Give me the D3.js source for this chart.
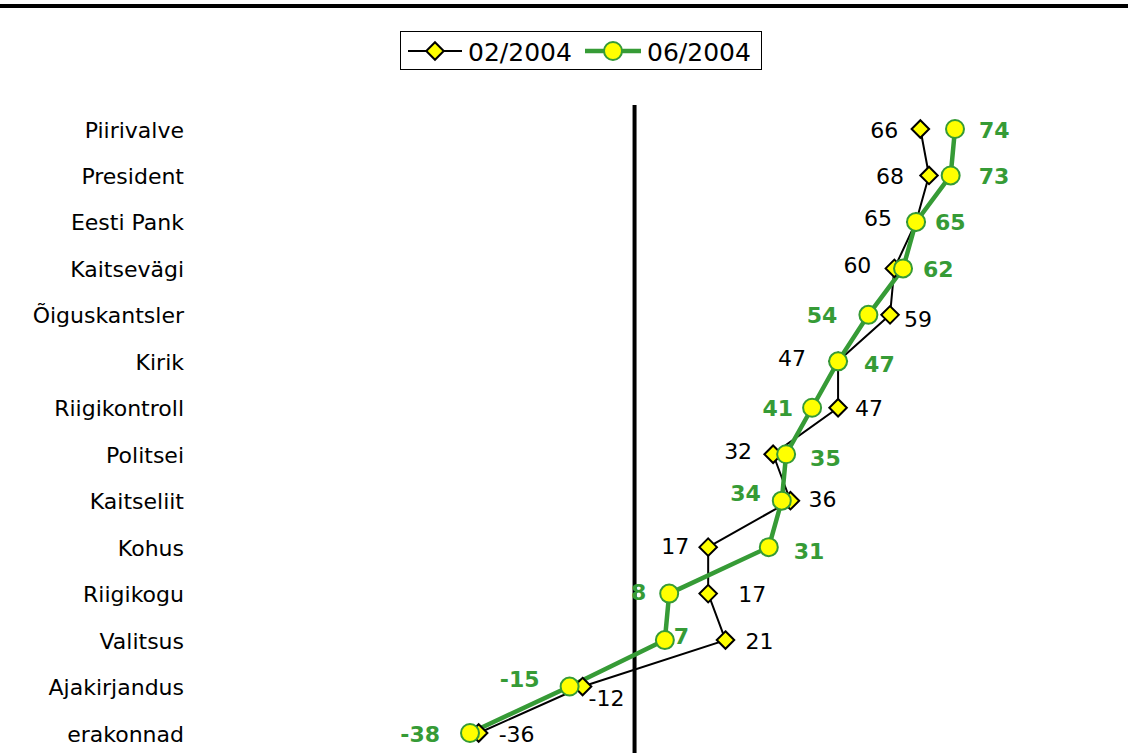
<!DOCTYPE html>
<html>
<head>
<meta charset="utf-8">
<script src="https://cdn.jsdelivr.net/npm/d3@7"></script>
<style>
  body { margin: 0; background: #fff; }
  text { font-family: "DejaVu Sans", Verdana, sans-serif; }
</style>
</head>
<body>
<script>
// institutions, top to bottom
var categories = ['Piirivalve', 'President', 'Eesti Pank', 'Kaitsevägi', 'Õiguskantsler',
                  'Kirik', 'Riigikontroll', 'Politsei', 'Kaitseliit', 'Kohus',
                  'Riigikogu', 'Valitsus', 'Ajakirjandus', 'erakonnad'];
var feb2004 = [66, 68, 65, 60, 59, 47, 47, 32, 36, 17, 17, 21, -12, -36];
var jun2004 = [74, 73, 65, 62, 54, 47, 41, 35, 34, 31, 8, 7, -15, -38];
var seriesNames = ['02/2004', '06/2004'];

// label placement (layout only): horizontal / vertical nudges from the marker
var febDx = [-22, -25, -24, -23, 14, -32, 17, -21, 18, -19, 30, 20, 6, 20];
var febDy = [0, 0, -4, -4, 4, -4, 0, -4, -2, -2, 0, 0, 11, 0];
var junDx = [24, 28, 19, 20, -31, 26, -19, 24, -21, 25, -23, 9, -30, -30];
var junDy = [0, 0, 0, 0, 0, 2, 0, 3, -8, 3, -2, -5, -8, 0];

var W = 1128, H = 753;
var green = '#369b36';

var svg = d3.select('body').append('svg')
            .attr('width', W)
            .attr('height', H);

var x = d3.scaleLinear().domain([-38, 74]).range([470, 955]);
var y = d3.scalePoint().domain(categories).range([129, 733]);

// top rule
svg.append('line')
   .attr('x1', 0).attr('x2', W)
   .attr('y1', 6).attr('y2', 6)
   .style('stroke', '#000')
   .style('stroke-width', 4);

// zero line
svg.append('line')
   .attr('x1', x(0)).attr('x2', x(0))
   .attr('y1', 105).attr('y2', H)
   .style('stroke', '#000')
   .style('stroke-width', 4);

// category labels
svg.selectAll('.cat')
   .data(categories)
   .enter().append('text')
   .attr('class', 'cat')
   .attr('x', 184)
   .attr('y', function(d) { return y(d) + 1; })
   .attr('text-anchor', 'end')
   .attr('dominant-baseline', 'central')
   .style('font-size', '22px')
   .style('fill', '#000')
   .text(function(d) { return d; });

var line = d3.line()
             .x(function(d) { return x(d.v); })
             .y(function(d) { return y(d.c); });

var febPts = categories.map(function(c, i) { return { c: c, v: feb2004[i], i: i }; });
var junPts = categories.map(function(c, i) { return { c: c, v: jun2004[i], i: i }; });

var diamond = d3.symbol().type(d3.symbolDiamond2).size(195);

// 02/2004 series
svg.append('path')
   .datum(febPts)
   .attr('d', line)
   .style('fill', 'none')
   .style('stroke', '#000')
   .style('stroke-width', 2);

// 06/2004 series line
svg.append('path')
   .datum(junPts)
   .attr('d', line)
   .style('fill', 'none')
   .style('stroke', green)
   .style('stroke-width', 4.5);

svg.selectAll('.fm')
   .data(febPts)
   .enter().append('path')
   .attr('class', 'fm')
   .attr('d', diamond)
   .attr('transform', function(d) { return 'translate(' + x(d.v) + ',' + y(d.c) + ')'; })
   .style('fill', '#ffff00')
   .style('stroke', '#000')
   .style('stroke-width', 2);

svg.selectAll('.jm')
   .data(junPts)
   .enter().append('circle')
   .attr('class', 'jm')
   .attr('cx', function(d) { return x(d.v); })
   .attr('cy', function(d) { return y(d.c); })
   .attr('r', 9)
   .style('fill', '#ffff00')
   .style('stroke', green)
   .style('stroke-width', 2);

// value labels
svg.selectAll('.fl')
   .data(febPts)
   .enter().append('text')
   .attr('class', 'fl')
   .attr('x', function(d) { return x(d.v) + febDx[d.i]; })
   .attr('y', function(d) { return y(d.c) + febDy[d.i] + 1; })
   .attr('text-anchor', function(d) { return febDx[d.i] < 0 ? 'end' : 'start'; })
   .attr('dominant-baseline', 'central')
   .style('font-size', '22px')
   .style('fill', '#000')
   .text(function(d) { return d.v; });

svg.selectAll('.jl')
   .data(junPts)
   .enter().append('text')
   .attr('class', 'jl')
   .attr('x', function(d) { return x(d.v) + junDx[d.i]; })
   .attr('y', function(d) { return y(d.c) + junDy[d.i] + 1; })
   .attr('text-anchor', function(d) { return junDx[d.i] < 0 ? 'end' : 'start'; })
   .attr('dominant-baseline', 'central')
   .style('font-size', '22px')
   .style('font-weight', 'bold')
   .style('fill', green)
   .text(function(d) { return d.v; });

// legend
var legend = svg.append('g');
legend.append('rect')
      .attr('x', 400.5).attr('y', 31.5)
      .attr('width', 361).attr('height', 38)
      .style('fill', '#fff')
      .style('stroke', '#000')
      .style('stroke-width', 1);

legend.append('line')
      .attr('x1', 408).attr('x2', 462).attr('y1', 51).attr('y2', 51)
      .style('stroke', '#000').style('stroke-width', 2);
legend.append('path')
      .attr('d', diamond)
      .attr('transform', 'translate(435,51)')
      .style('fill', '#ffff00').style('stroke', '#000').style('stroke-width', 2);
legend.append('text')
      .attr('x', 468).attr('y', 52)
      .attr('dominant-baseline', 'central')
      .style('font-size', '25px')
      .text(seriesNames[0]);

legend.append('line')
      .attr('x1', 585).attr('x2', 641).attr('y1', 51).attr('y2', 51)
      .style('stroke', green).style('stroke-width', 4.5);
legend.append('circle')
      .attr('cx', 613).attr('cy', 51).attr('r', 9)
      .style('fill', '#ffff00').style('stroke', green).style('stroke-width', 2);
legend.append('text')
      .attr('x', 647).attr('y', 52)
      .attr('dominant-baseline', 'central')
      .style('font-size', '25px')
      .text(seriesNames[1]);
</script>
</body>
</html>
